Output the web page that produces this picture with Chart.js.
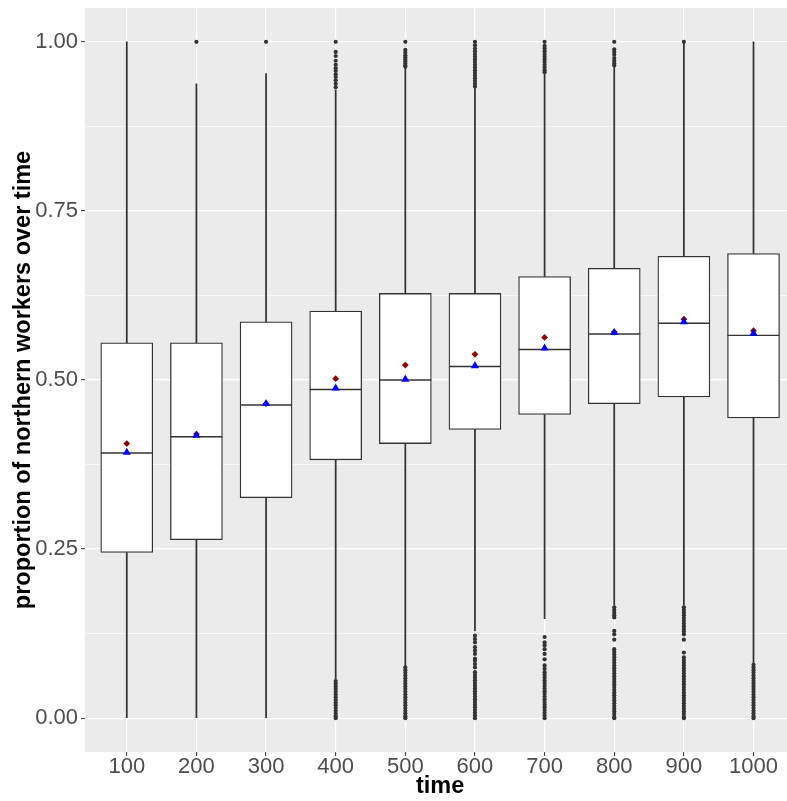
<!DOCTYPE html>
<html>
<head>
<meta charset="utf-8">
<script src="https://cdn.jsdelivr.net/npm/chart.js@4/dist/chart.umd.min.js"></script>
<style>
    html, body { margin: 0; padding: 0; background: #fff; overflow: hidden; }
    #wrap { width: 800px; height: 801px; }
</style>
</head>
<body>
<div id="wrap"><canvas id="boxChart" width="800" height="801"></canvas></div>
<script>
// categories on the x axis
const categories = ['100', '200', '300', '400', '500', '600', '700', '800', '900', '1000'];

// box statistics per category
const q1 = [0.245, 0.264, 0.326, 0.382, 0.406, 0.427, 0.449, 0.465, 0.475, 0.444];
const medians = [0.392, 0.416, 0.463, 0.486, 0.500, 0.520, 0.545, 0.568, 0.584, 0.566];
const q3 = [0.555, 0.555, 0.586, 0.602, 0.628, 0.628, 0.653, 0.665, 0.683, 0.687];
const whiskerLow = [0, 0, 0, 0.058, 0.077, 0.129, 0.147, 0.167, 0.167, 0.081];
const whiskerHigh = [1.0, 0.938, 0.953, 0.929, 0.961, 0.932, 0.954, 0.964, 1.0, 1.0];

// red diamonds (mean) and blue triangles
const means = [0.406, 0.420, 0.465, 0.502, 0.522, 0.538, 0.563, 0.571, 0.590, 0.573];
const blueMarks = [0.393, 0.418, 0.465, 0.488, 0.501, 0.521, 0.547, 0.570, 0.586, 0.569];

// outliers above the upper whisker
const outliersHigh = [
    [],
    [1.0],
    [1.0],
    [1.0, 0.985, 0.979, 0.972, 0.966, 0.961, 0.957, 0.952, 0.948, 0.943, 0.938, 0.933],
    [1.0, 0.988, 0.984, 0.980, 0.977, 0.974, 0.971, 0.968, 0.965, 0.963],
    [1.0, 0.995, 0.990, 0.986, 0.982, 0.978, 0.974, 0.970, 0.966, 0.962, 0.958, 0.954, 0.950, 0.946, 0.942, 0.938, 0.934],
    [1.0, 0.994, 0.990, 0.986, 0.982, 0.978, 0.974, 0.970, 0.966, 0.962, 0.958, 0.955],
    [1.0, 0.989, 0.985, 0.981, 0.976, 0.972, 0.968, 0.965],
    [1.0],
    []
];

// outliers below the lower whisker
const outliersLow = [
    [],
    [],
    [],
    [0.055, 0.051, 0.047, 0.043, 0.039, 0.035, 0.031, 0.027, 0.023, 0.019, 0.015, 0.011, 0.007, 0.003, 0.0],
    [0.075, 0.071, 0.067, 0.063, 0.059, 0.055, 0.051, 0.047, 0.043, 0.039, 0.035, 0.031, 0.027, 0.023, 0.019, 0.015, 0.011, 0.007, 0.003, 0.0],
    [0.122, 0.117, 0.112, 0.105, 0.100, 0.095, 0.088, 0.085, 0.080, 0.075, 0.068, 0.064, 0.060, 0.056, 0.052, 0.048, 0.044, 0.040, 0.036, 0.032, 0.028, 0.024, 0.020, 0.016, 0.012, 0.008, 0.004, 0.0],
    [0.120, 0.112, 0.108, 0.102, 0.095, 0.087, 0.078, 0.073, 0.068, 0.064, 0.060, 0.056, 0.052, 0.048, 0.044, 0.040, 0.036, 0.032, 0.028, 0.024, 0.020, 0.016, 0.012, 0.008, 0.004, 0.0],
    [0.164, 0.160, 0.156, 0.152, 0.149, 0.129, 0.124, 0.116, 0.102, 0.098, 0.094, 0.090, 0.086, 0.082, 0.078, 0.074, 0.070, 0.066, 0.062, 0.058, 0.054, 0.050, 0.046, 0.042, 0.038, 0.034, 0.030, 0.026, 0.022, 0.018, 0.014, 0.010, 0.006, 0.002, 0.0],
    [0.164, 0.160, 0.156, 0.152, 0.148, 0.144, 0.140, 0.136, 0.132, 0.128, 0.124, 0.116, 0.097, 0.090, 0.086, 0.082, 0.078, 0.074, 0.070, 0.066, 0.062, 0.058, 0.054, 0.050, 0.046, 0.042, 0.038, 0.034, 0.030, 0.026, 0.022, 0.018, 0.014, 0.010, 0.006, 0.002, 0.0],
    [0.079, 0.075, 0.071, 0.067, 0.063, 0.059, 0.055, 0.051, 0.047, 0.043, 0.039, 0.035, 0.031, 0.027, 0.023, 0.019, 0.015, 0.011, 0.007, 0.003, 0.0]
];

// y axis: major ticks get labels, minor ones only a grid line
const yTicks = [0, 0.125, 0.25, 0.375, 0.5, 0.625, 0.75, 0.875, 1.0];
const yTickLabels = ['0.00', '', '0.25', '', '0.50', '', '0.75', '', '1.00'];

Chart.defaults.font.family = '"Liberation Sans", Arial, sans-serif';

const panelBg = {
    id: 'panelBg',
    beforeDraw(chart) {
        const { ctx, chartArea } = chart;
        ctx.save();
        ctx.fillStyle = '#EBEBEB';
        ctx.fillRect(chartArea.left, chartArea.top, chartArea.right - chartArea.left, chartArea.bottom - chartArea.top);
        ctx.restore();
    }
};

// median lines, drawn right after the boxes so markers stay on top
const medianLines = {
    id: 'medianLines',
    afterDatasetDraw(chart, args) {
        if (chart.data.datasets[args.index].label !== 'box') return;
        const { ctx } = chart;
        const yScale = chart.scales.y;
        ctx.save();
        ctx.strokeStyle = '#333333';
        ctx.lineWidth = 1.4;
        args.meta.data.forEach((bar, i) => {
            const y = yScale.getPixelForValue(medians[i]);
            ctx.beginPath();
            ctx.moveTo(bar.x - bar.width / 2, y);
            ctx.lineTo(bar.x + bar.width / 2, y);
            ctx.stroke();
        });
        ctx.restore();
    }
};

const outlierPoints = [];
categories.forEach((_, i) => {
    outliersHigh[i].forEach(v => outlierPoints.push({ x: i + 1, y: v }));
    outliersLow[i].forEach(v => outlierPoints.push({ x: i + 1, y: v }));
});

new Chart(document.getElementById('boxChart'), {
    type: 'bar',
    data: {
        datasets: [
            {
                label: 'whiskerLow',
                data: categories.map((_, i) => ({ x: i + 1, y: [whiskerLow[i], q1[i]] })),
                backgroundColor: '#333333',
                borderWidth: 0,
                barThickness: 1.1,
                grouped: false,
                order: 6
            },
            {
                label: 'whiskerHigh',
                data: categories.map((_, i) => ({ x: i + 1, y: [q3[i], whiskerHigh[i]] })),
                backgroundColor: '#333333',
                borderWidth: 0,
                barThickness: 1.1,
                grouped: false,
                order: 6
            },
            {
                label: 'box',
                data: categories.map((_, i) => ({ x: i + 1, y: [q1[i], q3[i]] })),
                backgroundColor: '#FFFFFF',
                borderColor: '#333333',
                borderWidth: 1.3,
                borderSkipped: false,
                barThickness: 52,
                grouped: false,
                order: 5
            },
            {
                type: 'scatter',
                label: 'outliers',
                data: outlierPoints,
                pointRadius: 2.1,
                pointBackgroundColor: '#333333',
                pointBorderWidth: 0,
                order: 3
            },
            {
                type: 'scatter',
                label: 'mean',
                data: categories.map((_, i) => ({ x: i + 1, y: means[i] })),
                pointStyle: 'rectRot',
                pointRadius: 3.4,
                pointBackgroundColor: '#8B0000',
                pointBorderWidth: 0,
                order: 2
            },
            {
                type: 'scatter',
                label: 'triangle',
                data: categories.map((_, i) => ({ x: i + 1, y: blueMarks[i] })),
                pointStyle: 'triangle',
                pointRadius: 4.7,
                pointBackgroundColor: '#0000FF',
                pointBorderWidth: 0,
                order: 1
            }
        ]
    },
    options: {
        responsive: false,
        animation: false,
        devicePixelRatio: 1,
        layout: { padding: { top: 8, right: 3, left: 0, bottom: 0 } },
        plugins: {
            legend: { display: false },
            tooltip: { enabled: false }
        },
        scales: {
            x: {
                type: 'linear',
                min: 0.4,
                max: 10.6,
                offset: false,
                afterFit: (scale) => {
                    scale.height = 49;
                    scale.paddingLeft = 0;
                    scale.paddingRight = 0;
                },
                afterBuildTicks: (scale) => {
                    scale.ticks = categories.map((_, i) => ({ value: i + 1 }));
                },
                ticks: {
                    autoSkip: false,
                    maxRotation: 0,
                    color: '#4D4D4D',
                    font: { size: 22 },
                    padding: -2,
                    callback: (value) => categories[value - 1]
                },
                grid: {
                    offset: false,
                    color: '#FFFFFF',
                    lineWidth: 1.2,
                    drawTicks: true,
                    tickLength: 4,
                    tickColor: '#333333',
                    tickWidth: 1
                },
                border: { display: false },
                title: {
                    display: true,
                    text: 'time',
                    color: '#000000',
                    font: { size: 23.5, weight: 'bold' },
                    padding: { top: 0, bottom: 0 }
                }
            },
            y: {
                type: 'linear',
                min: -0.05,
                max: 1.05,
                afterFit: (scale) => {
                    scale.width = 85;
                    scale.paddingTop = 0;
                    scale.paddingBottom = 0;
                },
                afterBuildTicks: (scale) => {
                    scale.ticks = yTicks.map(v => ({ value: v }));
                },
                ticks: {
                    color: '#4D4D4D',
                    font: { size: 22 },
                    padding: 3,
                    callback: (value, index) => yTickLabels[index]
                },
                grid: {
                    color: '#FFFFFF',
                    lineWidth: (ctx) => (yTickLabels[ctx.index] ? 1.2 : 0.6),
                    drawTicks: true,
                    tickLength: 4,
                    tickColor: (ctx) => (yTickLabels[ctx.index] ? '#333333' : 'rgba(0,0,0,0)'),
                    tickWidth: 1
                },
                border: { display: false },
                title: {
                    display: true,
                    text: 'proportion of northern workers over time',
                    color: '#000000',
                    font: { size: 23.5, weight: 'bold' },
                    padding: { top: 9, bottom: 0 }
                }
            }
        }
    },
    plugins: [panelBg, medianLines]
});
</script>
</body>
</html>
